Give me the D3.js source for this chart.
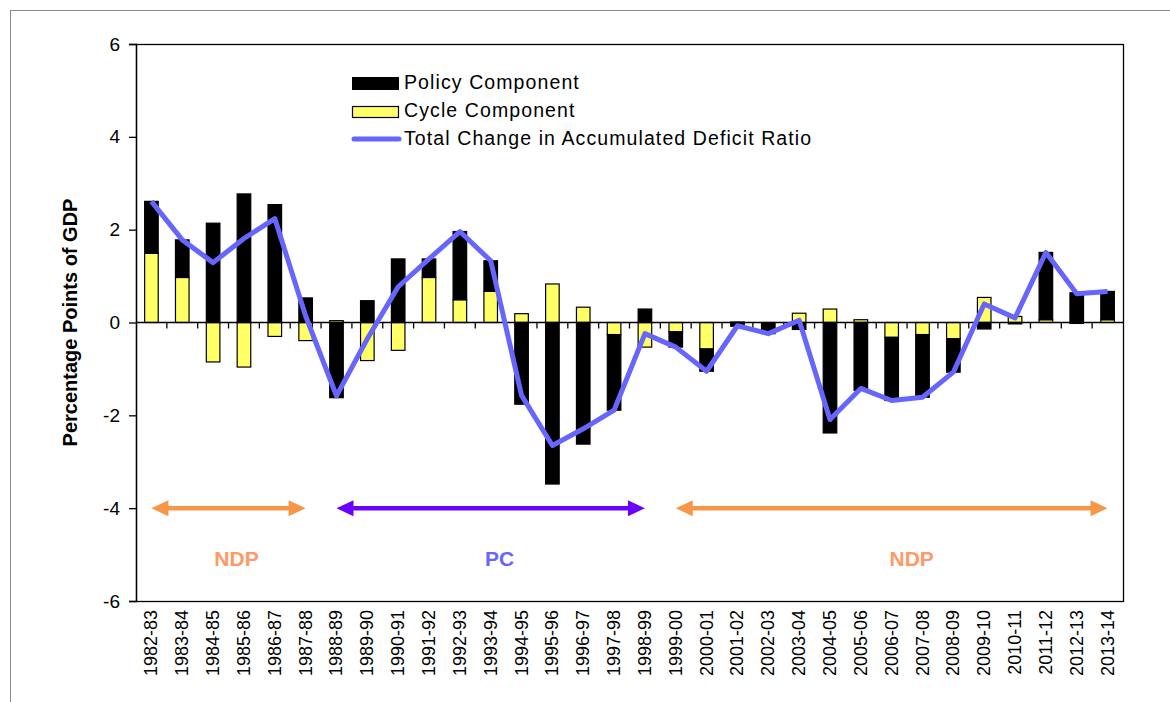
<!DOCTYPE html>
<html>
<head>
<meta charset="utf-8">
<script src="https://cdn.jsdelivr.net/npm/d3@7"></script>
<style>
  body { margin: 0; background: #fff; }
  svg { font-family: "Liberation Sans", Arial, sans-serif; }
</style>
</head>
<body>
<svg width="1170" height="702"></svg>
<script>
var years = ["1982-83","1983-84","1984-85","1985-86","1986-87","1987-88","1988-89","1989-90",
  "1990-91","1991-92","1992-93","1993-94","1994-95","1995-96","1996-97","1997-98","1998-99",
  "1999-00","2000-01","2001-02","2002-03","2003-04","2004-05","2005-06","2006-07","2007-08",
  "2008-09","2009-10","2010-11","2011-12","2012-13","2013-14"];

var cycle = [1.49, 0.97, -0.85, -0.96, -0.30, -0.39, 0.04, -0.82, -0.60, 0.97, 0.49, 0.67,
  0.19, 0.83, 0.33, -0.26, -0.53, -0.20, -0.57, 0.01, 0.00, 0.20, 0.29, 0.06, -0.32, -0.26,
  -0.35, 0.54, 0.13, 0.06, -0.02, 0.06];

var policy = [1.12, 0.81, 2.14, 2.77, 2.54, 0.53, -1.62, 0.47, 1.37, 0.40, 1.47, 0.66,
  -1.76, -3.48, -2.62, -1.63, 0.29, -0.33, -0.48, -0.08, -0.24, -0.15, -2.38, -1.46, -1.36, -1.35,
  -0.72, -0.14, -0.03, 1.45, 0.64, 0.61];

var total = [2.61, 1.78, 1.29, 1.81, 2.24, 0.14, -1.58, -0.35, 0.77, 1.37, 1.96, 1.33,
  -1.57, -2.65, -2.29, -1.89, -0.24, -0.53, -1.05, -0.07, -0.24, 0.05, -2.09, -1.42, -1.68, -1.61,
  -1.07, 0.40, 0.10, 1.51, 0.62, 0.67];

var yTicks = [-6, -4, -2, 0, 2, 4, 6];

// governing party periods (first and last fiscal year)
var periods = [
  { party: "NDP", from: "1982-83", to: "1987-88", arrow: "#f79646", label: "#ff9966", dx: 8 },
  { party: "PC",  from: "1988-89", to: "1998-99", arrow: "#6a00ff", label: "#6666ff", dx: 9 },
  { party: "NDP", from: "1999-00", to: "2013-14", arrow: "#f79646", label: "#ff9966", dx: 20 }
];

var svg = d3.select("svg"),
    plotLeft = 136, plotRight = 1123, plotTop = 44, plotBottom = 601;

// outer chart frame
svg.append("line").attr("x1", 10.5).attr("x2", 10.5).attr("y1", 10).attr("y2", 702)
  .attr("stroke", "#8c8c8c").attr("stroke-width", 1);
svg.append("line").attr("x1", 10).attr("x2", 1170).attr("y1", 10.5).attr("y2", 10.5)
  .attr("stroke", "#8c8c8c").attr("stroke-width", 1);

var x = d3.scaleBand().domain(years).range([plotLeft, plotRight]).paddingInner(0).paddingOuter(0);
var y = d3.scaleLinear().domain([-6, 6]).range([plotBottom, plotTop]);

var rows = years.map(function(d, i) { return { year: d, cycle: cycle[i], policy: policy[i] }; });

var stack = d3.stack().keys(["cycle", "policy"]).offset(d3.stackOffsetDiverging);
var series = stack(rows);
var fills = { cycle: "#ffff66", policy: "#000000" };

var barW = x.bandwidth() * 0.44;

// plot area border
svg.append("rect").attr("x", plotLeft + 0.5).attr("y", plotTop + 0.5)
  .attr("width", plotRight - plotLeft).attr("height", plotBottom - plotTop)
  .attr("fill", "none").attr("stroke", "#000").attr("stroke-width", 1.3);

svg.selectAll("g.series")
  .data(series)
  .enter().append("g")
  .attr("class", "series")
  .attr("fill", function(s) { return fills[s.key]; })
  .selectAll("rect")
  .data(function(s) { return s; })
  .enter().append("rect")
  .attr("x", function(d) { return x(d.data.year) + (x.bandwidth() - barW) / 2; })
  .attr("width", barW)
  .attr("y", function(d) { return y(Math.max(d[0], d[1])); })
  .attr("height", function(d) { return Math.abs(y(d[0]) - y(d[1])); })
  .attr("stroke", "#000")
  .attr("stroke-width", 1.2);

// category axis through zero, ticks pointing down
var xAxis = svg.append("g").attr("transform", "translate(0," + y(0) + ")");
xAxis.append("line").attr("x1", plotLeft).attr("x2", plotRight).attr("stroke", "#000").attr("stroke-width", 1.3);
xAxis.selectAll("line.tick")
  .data(years.slice(1))
  .enter().append("line")
  .attr("class", "tick")
  .attr("x1", function(d) { return x(d); })
  .attr("x2", function(d) { return x(d); })
  .attr("y1", 0).attr("y2", 6)
  .attr("stroke", "#000").attr("stroke-width", 1.3);

// category labels at the bottom
svg.selectAll("text.cat")
  .data(years)
  .enter().append("text")
  .attr("class", "cat")
  .attr("transform", function(d) {
    return "translate(" + (x(d) + x.bandwidth() / 2 + 6) + "," + (plotBottom + 9) + ") rotate(-90)";
  })
  .attr("text-anchor", "end")
  .attr("font-size", 18)
  .attr("fill", "#000")
  .text(function(d) { return d; });

// value axis
var yAxis = d3.axisLeft(y).tickValues(yTicks).tickSize(7).tickPadding(9)
  .tickFormat(function(d) { return String(d); });
var gy = svg.append("g").attr("transform", "translate(" + plotLeft + ",0)").call(yAxis);
gy.select(".domain").attr("stroke", "#000").attr("stroke-width", 1.3);
gy.selectAll(".tick line").attr("stroke", "#000").attr("stroke-width", 1.3);
gy.selectAll(".tick text").attr("font-size", 19).attr("font-family", "Liberation Sans, Arial, sans-serif").attr("fill", "#000");

svg.append("text")
  .attr("transform", "translate(77," + y(0) + ") rotate(-90)")
  .attr("text-anchor", "middle")
  .attr("font-size", 20)
  .attr("font-weight", "bold")
  .text("Percentage Points of GDP");

// total line
var line = d3.line()
  .x(function(d, i) { return x(years[i]) + x.bandwidth() / 2; })
  .y(function(d) { return y(d); });

svg.append("path")
  .datum(total)
  .attr("d", line)
  .attr("fill", "none")
  .attr("stroke", "#6666ff")
  .attr("stroke-width", 5)
  .attr("stroke-linejoin", "round");

// party period arrows
var arrowY = y(-4);
var head = 17, half = 8;
periods.forEach(function(p) {
  var x1 = x(p.from) + x.bandwidth() / 2, x2 = x(p.to) + x.bandwidth() / 2;
  svg.append("line").attr("x1", x1 + head - 2).attr("x2", x2 - head + 2)
    .attr("y1", arrowY).attr("y2", arrowY)
    .attr("stroke", p.arrow).attr("stroke-width", 4.5);
  svg.append("path")
    .attr("d", "M" + x1 + "," + arrowY + "L" + (x1 + head) + "," + (arrowY - half) + "L" + (x1 + head) + "," + (arrowY + half) + "Z")
    .attr("fill", p.arrow);
  svg.append("path")
    .attr("d", "M" + x2 + "," + arrowY + "L" + (x2 - head) + "," + (arrowY - half) + "L" + (x2 - head) + "," + (arrowY + half) + "Z")
    .attr("fill", p.arrow);
  svg.append("text")
    .attr("x", (x1 + x2) / 2 + p.dx)
    .attr("y", arrowY + 58)
    .attr("text-anchor", "middle")
    .attr("font-size", 21)
    .attr("font-weight", "bold")
    .attr("fill", p.label)
    .text(p.party);
});

// legend
var legend = svg.append("g").attr("transform", "translate(352,0)");
legend.append("rect").attr("x", 0).attr("y", 77).attr("width", 47).attr("height", 13).attr("fill", "#000");
legend.append("rect").attr("x", 0.5).attr("y", 106.5).attr("width", 46).attr("height", 11)
  .attr("fill", "#ffff66").attr("stroke", "#000").attr("stroke-width", 1.2);
legend.append("line").attr("x1", 2).attr("x2", 47).attr("y1", 139).attr("y2", 139)
  .attr("stroke", "#6666ff").attr("stroke-width", 5).attr("stroke-linecap", "round");
var legendNames = ["Policy Component", "Cycle Component", "Total Change in Accumulated Deficit Ratio"];
legend.selectAll("text")
  .data(legendNames)
  .enter().append("text")
  .attr("x", 52)
  .attr("y", function(d, i) { return 89 + i * 28; })
  .attr("font-size", 19.5)
  .attr("letter-spacing", 1.1)
  .text(function(d) { return d; });
</script>
</body>
</html>
